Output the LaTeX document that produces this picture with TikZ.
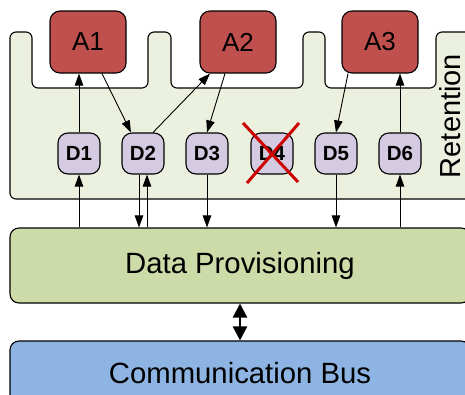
\documentclass[tikz,border=0pt]{standalone}
\usepackage{fontspec}
\setmainfont{Liberation Sans}
\usetikzlibrary{arrows.meta,calc}
\definecolor{afill}{HTML}{C0504D}
\definecolor{retfill}{HTML}{EBF1DE}
\definecolor{dpfill}{HTML}{CDDBA8}
\definecolor{cbfill}{HTML}{8DB4E2}
\definecolor{dfill}{HTML}{D4CBE2}
\definecolor{xred}{HTML}{CC0000}
\begin{document}
\begin{tikzpicture}[x=1pt,y=-1pt,
  abox/.style={draw=black,line width=1.1pt,fill=afill,rounded corners=10pt,minimum width=76pt,minimum height=62pt,inner sep=0pt,font=\fontsize{26}{31}\selectfont},
  dbox/.style={draw=black,line width=1.1pt,fill=dfill,rounded corners=10pt,minimum width=42pt,minimum height=41pt,inner sep=0pt,font=\fontsize{20.5}{24}\selectfont\bfseries},
  bigbox/.style={draw=black,line width=1.1pt,rounded corners=9pt,minimum width=460pt,inner sep=0pt,font=\fontsize{29.3}{35}\selectfont},
  arr/.style={draw=black,line width=0.9pt,-{Triangle[length=12pt,width=8.5pt]}},
  dbl/.style={draw=black,line width=2.5pt,{Triangle[length=14pt,width=14pt]}-{Triangle[length=14pt,width=14pt]}},
  xline/.style={draw=xred,line width=3pt}]
\useasboundingbox (0,0) rectangle (465,394);
\clip (0,0) rectangle (465,394);
% Retention container
\draw[fill=retfill,line width=1.1pt,rounded corners=6pt]
  (10,199) -- (10,32) -- (32,32) -- (32,88) -- (148,88) -- (148,32) -- (171,32) -- (171,88)
  -- (303,88) -- (303,32) -- (325,32) -- (325,88) -- (436,88) -- (436,32) -- (490,32)
  -- (490,199) -- cycle;
\node[rotate=90,font=\fontsize{29}{34}\selectfont,inner sep=0pt] (ret) at (450,116) {Retention};
% A boxes
\node[abox] (A1) at (88,42) {A1};
\node[abox] (A2) at (238,42) {A2};
\node[abox] (A3) at (380,42) {A3};
% D boxes
\node[dbox] (D1) at (79,153.5) {D1};
\node[dbox] (D2) at (143,153.5) {D2};
\node[dbox] (D3) at (207,153.5) {D3};
\node[dbox] (D4) at (272,153.5) {D4};
\node[dbox] (D5) at (336,153.5) {D5};
\node[dbox] (D6) at (400,153.5) {D6};
% lower boxes
\node[bigbox,fill=dpfill,minimum height=75pt] (DP) at (240,265.5) {Data Provisioning};
\node[bigbox,fill=cbfill,minimum height=64pt] (CB) at (240,373) {Communication Bus};
% red cross over D4
\draw[xline] ($(D4)+(-29,-30.5)$) -- ($(D4)+(26,28.5)$);
\draw[xline] ($(D4)+(27,-30.5)$) -- ($(D4)+(-25,29.5)$);
% coordinates
\coordinate (a1o) at ([xshift=14pt]A1.south);
\coordinate (d2i) at ([xshift=-12pt]D2.north);
\coordinate (d2o) at ([xshift=10pt]D2.north);
\coordinate (a2i) at ([xshift=-28pt]A2.south);
\coordinate (a2o) at ([xshift=-13pt]A2.south);
\coordinate (a3o) at ([xshift=-32pt]A3.south);
\coordinate (d2l) at ([xshift=-4pt]D2.south);
\coordinate (d2r) at ([xshift=4pt]D2.south);
% upper arrows
\draw[arr] (D1.north) -- (D1.north |- A1.south);
\draw[arr] (a1o) -- (d2i);
\draw[arr] (d2o) -- (a2i);
\draw[arr] (a2o) -- (D3.north);
\draw[arr] (a3o) -- (D5.north);
\draw[arr] (D6.north) -- (D6.north |- A3.south);
% lower arrows
\draw[arr] (D1.south |- DP.north) -- (D1.south);
\draw[arr] (d2l) -- (d2l |- DP.north);
\draw[arr] (d2r |- DP.north) -- (d2r);
\draw[arr] (D3.south) -- (D3.south |- DP.north);
\draw[arr] (D5.south) -- (D5.south |- DP.north);
\draw[arr] (D6.south |- DP.north) -- (D6.south);
% bus link
\draw[dbl] (DP.south) -- (CB.north);
\end{tikzpicture}
\end{document}
